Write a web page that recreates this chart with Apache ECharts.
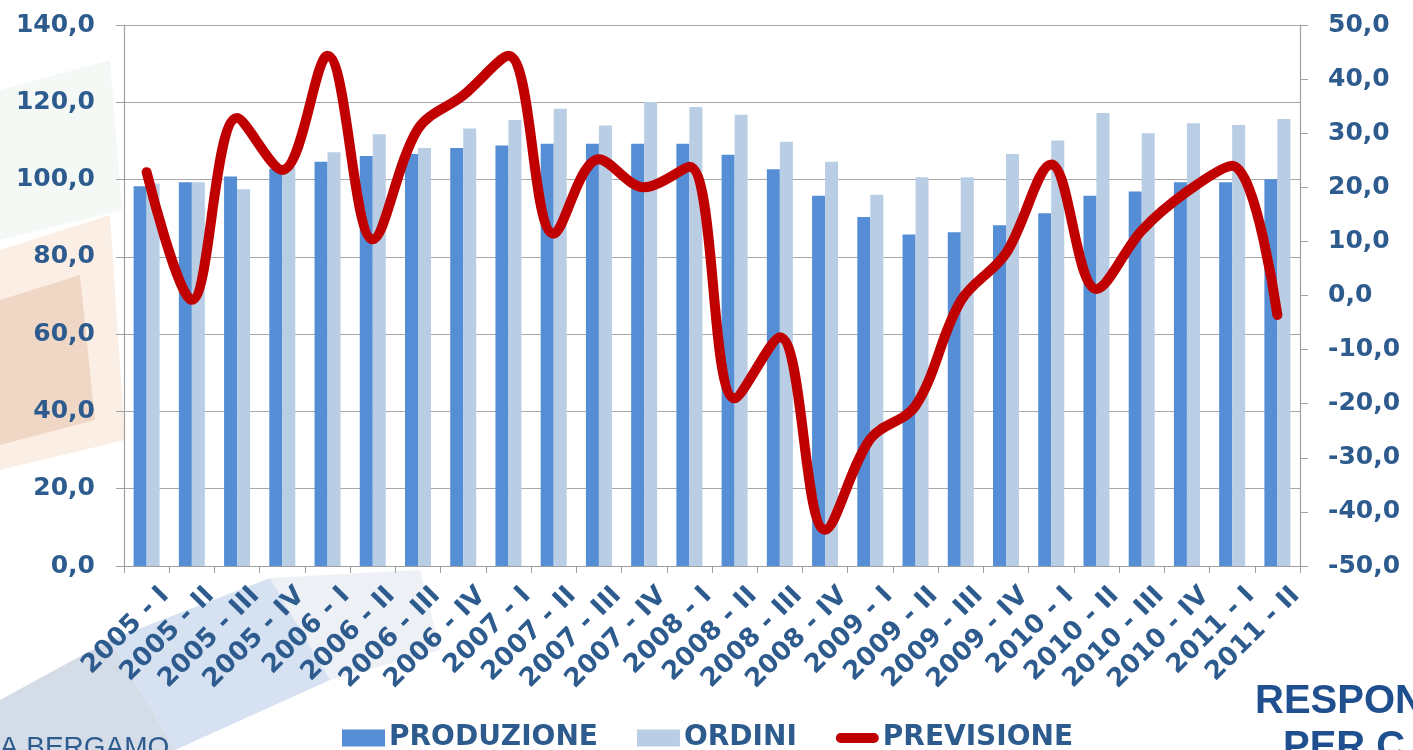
<!DOCTYPE html>
<html>
<head>
<meta charset="UTF-8">
<title>Produzione, ordini, previsione</title>
<script src="https://cdn.jsdelivr.net/npm/echarts@6/dist/echarts.min.js"></script>
<style>
  html, body { margin: 0; padding: 0; background: #fff; }
  #chart { width: 1413px; height: 750px; }
</style>
</head>
<body>
<div id="chart"></div>
<script>
// trimestri
var quarters = ['2005 - I', '2005 - II', '2005 - III', '2005 - IV',
  '2006 - I', '2006 - II', '2006 - III', '2006 - IV',
  '2007 - I', '2007 - II', '2007 - III', '2007 - IV',
  '2008 - I', '2008 - II', '2008 - III', '2008 - IV',
  '2009 - I', '2009 - II', '2009 - III', '2009 - IV',
  '2010 - I', '2010 - II', '2010 - III', '2010 - IV',
  '2011 - I', '2011 - II'];

// asse sinistro
var produzione = [98.3, 99.3, 100.8, 102.8, 104.6, 106.1, 106.6, 108.2,
  108.8, 109.3, 109.3, 109.3, 109.3, 106.4, 102.7, 95.8,
  90.3, 85.8, 86.4, 88.2, 91.3, 95.8, 96.9, 99.3, 99.3, 100.1];
var ordini = [99.0, 99.3, 97.5, 103.4, 107.1, 111.7, 108.2, 113.2,
  115.4, 118.3, 114.0, 120.1, 118.8, 116.8, 109.8, 104.6,
  96.1, 100.6, 100.6, 106.6, 110.1, 117.2, 112.0, 114.6, 114.1, 115.7];

// asse destro
var previsione = [22.8, -0.8, 32.8, 23.2, 44.3, 10.4, 30.8, 37.0,
  44.3, 11.4, 25.2, 20.0, 23.8, -19.0, -7.7, -43.3,
  -26.5, -20.4, -1.0, 7.8, 24.2, 1.2, 12.0, 19.2, 24.0, -3.6];

var leftTicks = { min: 0, max: 140, step: 20 };
var rightTicks = { min: -50, max: 50, step: 10 };

var txtColor = '#2d5b8e';
var font = 'DejaVu Sans';

var chart = echarts.init(document.getElementById('chart'));

function fmt(v) {
  return v.toFixed(1).replace('.', ',');
}

var option = {
  backgroundColor: '#ffffff',
  animation: false,
  // sfondo della slide
  graphic: [
    { type: 'polygon', z: -10, shape: { points: [[0, 250], [110, 215], [125, 440], [0, 470]] },
      style: { fill: 'rgba(245,215,190,0.4)' } },
    { type: 'polygon', z: -9, shape: { points: [[0, 300], [80, 275], [95, 420], [0, 445]] },
      style: { fill: 'rgba(225,180,150,0.4)' } },
    { type: 'polygon', z: -10, shape: { points: [[0, 90], [110, 60], [122, 210], [0, 240]] },
      style: { fill: 'rgba(220,235,225,0.3)' } },
    { type: 'polygon', z: -10, shape: { points: [[0, 700], [110, 640], [175, 750], [0, 750]] },
      style: { fill: 'rgba(170,185,210,0.5)' } },
    { type: 'polygon', z: -10, shape: { points: [[110, 640], [270, 578], [330, 680], [175, 750]] },
      style: { fill: 'rgba(180,202,232,0.55)' } },
    { type: 'polygon', z: -10, shape: { points: [[270, 578], [420, 570], [440, 650], [330, 680]] },
      style: { fill: 'rgba(215,222,232,0.45)' } },
    { type: 'text', left: 1255, top: 682,
      style: { text: 'RESPON', font: 'bold 40px "Liberation Sans", sans-serif', fill: '#1f4f8f' } },
    { type: 'text', left: 1283, top: 728,
      style: { text: 'PER C', font: 'bold 40px "Liberation Sans", sans-serif', fill: '#1f4f8f' } },
    { type: 'text', left: -8, top: 734,
      style: { text: 'IA BERGAMO', font: '28px "Liberation Sans", sans-serif', fill: '#2d5b8e' } }
  ],
  grid: { left: 124, right: 113, top: 25, bottom: 184 },
  legend: {
    left: 337,
    top: 719,
    itemWidth: 43,
    itemHeight: 17,
    itemGap: 39,
    symbolKeepAspect: true,
    textStyle: { fontFamily: font, fontWeight: 'bold', fontSize: 28, color: txtColor, padding: [0, 0, 0, -1] },
    data: [
      { name: 'PRODUZIONE', icon: 'rect' },
      { name: 'ORDINI', icon: 'rect' },
      { name: 'PREVISIONE',
        icon: 'path://M5,0 L38,0 A5,5 0 0 1 38,10 L5,10 A5,5 0 0 1 5,0 Z',
        itemStyle: { color: '#c00000', borderWidth: 0 } }
    ]
  },
  xAxis: {
    type: 'category',
    data: quarters,
    boundaryGap: true,
    axisLine: { lineStyle: { color: '#a0a0a0', width: 1.2 } },
    axisTick: { show: true, alignWithLabel: false, length: 7, lineStyle: { color: '#a0a0a0' } },
    axisLabel: {
      interval: 0,
      rotate: 45,
      margin: 44,
      padding: [0, -26, 0, 0],
      fontFamily: font,
      fontWeight: 'bold',
      fontSize: 26,
      color: txtColor
    }
  },
  yAxis: [
    {
      type: 'value',
      min: leftTicks.min,
      max: leftTicks.max,
      interval: leftTicks.step,
      axisLine: { show: true, lineStyle: { color: '#a0a0a0', width: 1.2 } },
      axisTick: { show: true, length: 8, lineStyle: { color: '#a0a0a0' } },
      splitLine: { show: true, lineStyle: { color: '#a8a8a8', width: 1.2 } },
      axisLabel: {
        margin: 29,
        fontFamily: font,
        fontWeight: 'bold',
        fontSize: 25,
        color: txtColor,
        formatter: fmt
      }
    },
    {
      type: 'value',
      position: 'right',
      min: rightTicks.min,
      max: rightTicks.max,
      interval: rightTicks.step,
      axisLine: { show: true, lineStyle: { color: '#a0a0a0', width: 1.2 } },
      axisTick: { show: true, length: 8, lineStyle: { color: '#a0a0a0' } },
      splitLine: { show: false },
      axisLabel: {
        margin: 28,
        fontFamily: font,
        fontWeight: 'bold',
        fontSize: 25,
        color: txtColor,
        formatter: fmt
      }
    }
  ],
  series: [
    {
      name: 'PRODUZIONE',
      type: 'bar',
      yAxisIndex: 0,
      data: produzione,
      barWidth: 13,
      barGap: '0%',
      itemStyle: { color: '#558ed5' }
    },
    {
      name: 'ORDINI',
      type: 'bar',
      yAxisIndex: 0,
      data: ordini,
      barWidth: 13,
      barGap: '0%',
      itemStyle: { color: '#b9cde5' }
    },
    {
      name: 'PREVISIONE',
      type: 'line',
      yAxisIndex: 1,
      data: previsione,
      smooth: 0.35,
      showSymbol: false,
      symbol: 'none',
      z: 5,
      lineStyle: { color: '#c00000', width: 10, cap: 'round', join: 'round' },
      itemStyle: { color: '#c00000' }
    }
  ]
};

chart.setOption(option);
</script>
</body>
</html>
